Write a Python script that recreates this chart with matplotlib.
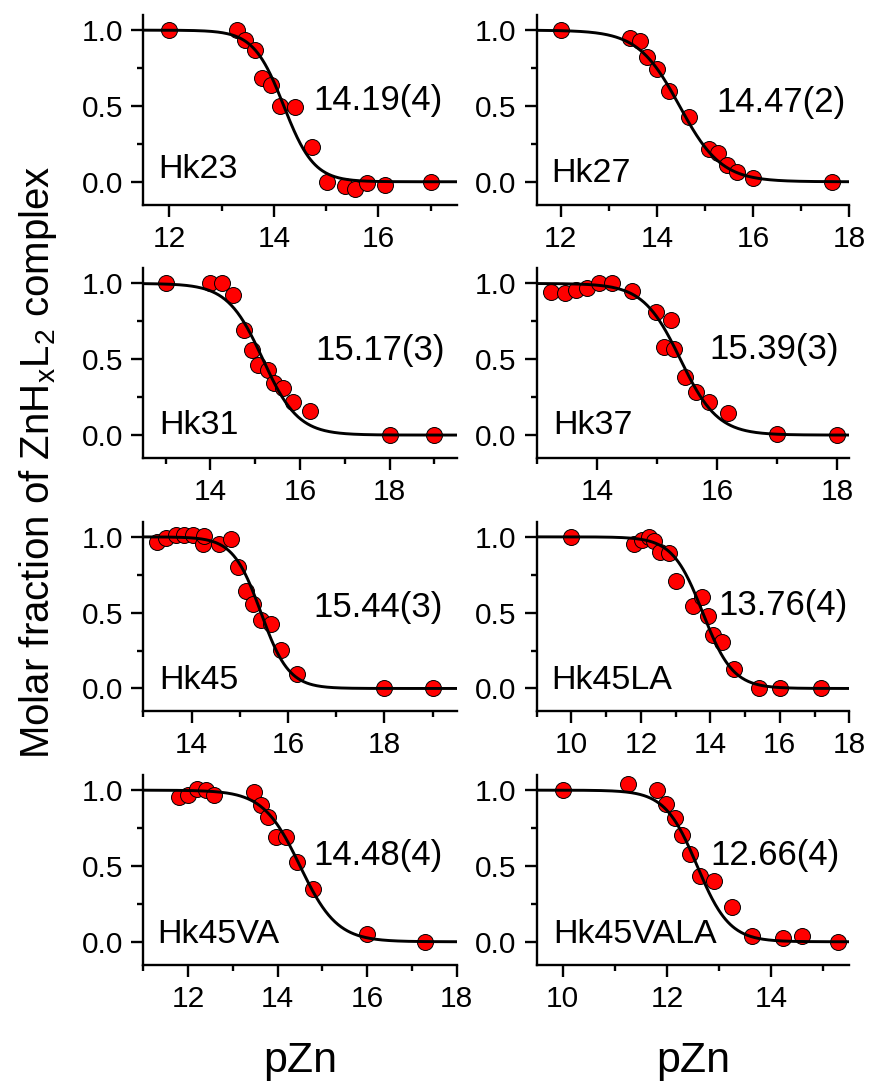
import numpy as np
import matplotlib.pyplot as plt
from matplotlib.ticker import MultipleLocator, FormatStrFormatter

plt.rcParams['font.family'] = ['Liberation Sans', 'DejaVu Sans']
plt.rcParams['mathtext.fontset'] = 'custom'
plt.rcParams['mathtext.rm'] = 'Liberation Sans'

# peptide names and fitted log K values printed in each panel
names = ["Hk23", "Hk27", "Hk31", "Hk37", "Hk45", "Hk45LA", "Hk45VA", "Hk45VALA"]
logk_text = ["14.19(4)", "14.47(2)", "15.17(3)", "15.39(3)",
             "15.44(3)", "13.76(4)", "14.48(4)", "12.66(4)"]

# fitted curve parameters (midpoint, slope)
fit_mid = [14.19, 14.47, 15.17, 15.39, 15.44, 13.78, 14.50, 12.58]
fit_slope = [1.5, 1.0, 1.1, 1.4, 1.5, 1.0, 1.05, 1.4]

# measured points (pZn, molar fraction)
x_hk23 = [12.0, 13.29, 13.45, 13.63, 13.77, 13.94, 14.12, 14.41, 14.73, 15.01, 15.36, 15.56, 15.78, 16.13, 17.0]
y_hk23 = [1.0, 1.0, 0.935, 0.87, 0.685, 0.635, 0.497, 0.49, 0.23, 0.0, -0.03, -0.045, -0.01, -0.02, 0.0]

x_hk27 = [12.0, 13.45, 13.65, 13.79, 14.0, 14.26, 14.67, 15.08, 15.27, 15.45, 15.66, 16.0, 17.63]
y_hk27 = [1.0, 0.947, 0.926, 0.825, 0.744, 0.60, 0.427, 0.219, 0.19, 0.11, 0.066, 0.028, 0.0]

x_hk31 = [13.0, 13.99, 14.25, 14.51, 14.75, 14.93, 15.07, 15.29, 15.42, 15.63, 15.85, 16.22, 18.0, 19.0]
y_hk31 = [1.0, 1.0, 1.0, 0.925, 0.695, 0.563, 0.462, 0.431, 0.343, 0.31, 0.215, 0.16, 0.0, 0.0]

x_hk37 = [13.23, 13.47, 13.66, 13.83, 14.03, 14.25, 14.58, 14.98, 15.23, 15.11, 15.29, 15.46, 15.65, 15.86, 16.18, 17.0, 18.0]
y_hk37 = [0.941, 0.934, 0.956, 0.969, 1.0, 1.004, 0.947, 0.809, 0.76, 0.578, 0.567, 0.38, 0.281, 0.215, 0.145, 0.007, 0.0]

x_hk45 = [13.28, 13.48, 13.67, 13.85, 14.03, 14.23, 14.26, 14.56, 14.82, 14.96, 15.12, 15.27, 15.44, 15.65, 15.86, 16.19, 18.0, 19.0]
y_hk45 = [0.969, 0.991, 1.009, 1.009, 1.009, 0.956, 1.007, 0.956, 0.985, 0.799, 0.646, 0.558, 0.453, 0.422, 0.256, 0.094, 0.0, 0.0]

x_hk45la = [10.0, 11.81, 12.03, 12.22, 12.39, 12.54, 12.82, 13.01, 13.49, 13.75, 13.92, 14.09, 14.33, 14.69, 15.41, 16.0, 17.18]
y_hk45la = [1.0, 0.956, 0.978, 1.0, 0.974, 0.897, 0.891, 0.712, 0.547, 0.602, 0.475, 0.35, 0.306, 0.131, 0.0, 0.0, 0.0]

x_hk45va = [11.80, 12.0, 12.20, 12.40, 12.57, 13.48, 13.64, 13.79, 13.96, 14.18, 14.43, 14.80, 16.0, 17.30]
y_hk45va = [0.952, 0.967, 1.007, 1.0, 0.967, 0.985, 0.901, 0.82, 0.692, 0.688, 0.523, 0.347, 0.051, 0.0]

x_hk45vala = [10.0, 11.25, 11.80, 11.98, 12.15, 12.29, 12.45, 12.64, 12.91, 13.25, 13.64, 14.23, 14.60, 15.28]
y_hk45vala = [1.0, 1.04, 1.0, 0.912, 0.815, 0.705, 0.578, 0.431, 0.402, 0.226, 0.04, 0.022, 0.04, 0.0]

xs = [x_hk23, x_hk27, x_hk31, x_hk37, x_hk45, x_hk45la, x_hk45va, x_hk45vala]
ys = [y_hk23, y_hk27, y_hk31, y_hk37, y_hk45, y_hk45la, y_hk45va, y_hk45vala]

xlims = [(11.5, 17.5), (11.5, 18.0), (12.5, 19.5), (13.0, 18.2),
         (13.0, 19.5), (9.0, 18.0), (11.0, 18.0), (9.5, 15.5)]

# text positions (axes fraction)
name_pos = [(0.047, 0.138), (0.048, 0.118), (0.051, 0.126), (0.053, 0.123),
            (0.051, 0.118), (0.048, 0.118), (0.045, 0.111), (0.053, 0.111)]
k_pos = [(0.542, 0.497), (0.576, 0.488), (0.548, 0.517), (0.551, 0.521),
         (0.542, 0.497), (0.581, 0.51), (0.542, 0.525), (0.554, 0.525)]

W, H = 871, 1082
fig = plt.figure(figsize=(W / 100, H / 100), dpi=100)

col_left = [143.3, 536.7]
col_width = [313.4, 312.6]
row_top = [15, 268.3, 521.7, 775]
row_h = 189.5

for i in range(8):
    r, c = i // 2, i % 2
    ax = fig.add_axes([col_left[c] / W, 1 - (row_top[r] + row_h) / H,
                       col_width[c] / W, row_h / H])
    xx = np.linspace(xlims[i][0], xlims[i][1], 400)
    yy = 1.0 / (1.0 + 10 ** (fit_slope[i] * (xx - fit_mid[i])))
    ax.plot(xx, yy, color='black', lw=2.1, zorder=3)
    ax.plot(xs[i], ys[i], 'o', ms=11.5, mfc='#ff0000', mec='black', mew=0.7,
            zorder=2, clip_on=False)
    ax.set_xlim(*xlims[i])
    ax.set_ylim(-0.15, 1.1)
    for s in ['top', 'right']:
        ax.spines[s].set_visible(False)
    for s in ['left', 'bottom']:
        ax.spines[s].set_linewidth(1.7)
    ax.xaxis.set_major_locator(MultipleLocator(2))
    ax.xaxis.set_minor_locator(MultipleLocator(1))
    ax.yaxis.set_major_locator(MultipleLocator(0.5))
    ax.yaxis.set_minor_locator(MultipleLocator(0.25))
    ax.yaxis.set_major_formatter(FormatStrFormatter('%.1f'))
    ax.tick_params(which='major', length=8.5, width=1.7, labelsize=21.5, pad=6)
    ax.tick_params(which='minor', length=4.5, width=1.7)
    ax.text(name_pos[i][0], name_pos[i][1], names[i], transform=ax.transAxes,
            fontsize=24.5, va='baseline', ha='left')
    ax.text(k_pos[i][0], k_pos[i][1], logk_text[i], transform=ax.transAxes,
            fontsize=25, va='baseline', ha='left')

fig.text(0.044, 1 - 462 / H, r'Molar fraction of ZnH$_\mathregular{x}$L$_\mathregular{2}$ complex',
         rotation=90, fontsize=29, ha='center', va='center')
for c in range(2):
    fig.text((col_left[c] + col_width[c] / 2) / W, 1 - 1071.7 / H, 'pZn',
             fontsize=31, ha='center', va='baseline')

plt.savefig('out.png', dpi=100)
